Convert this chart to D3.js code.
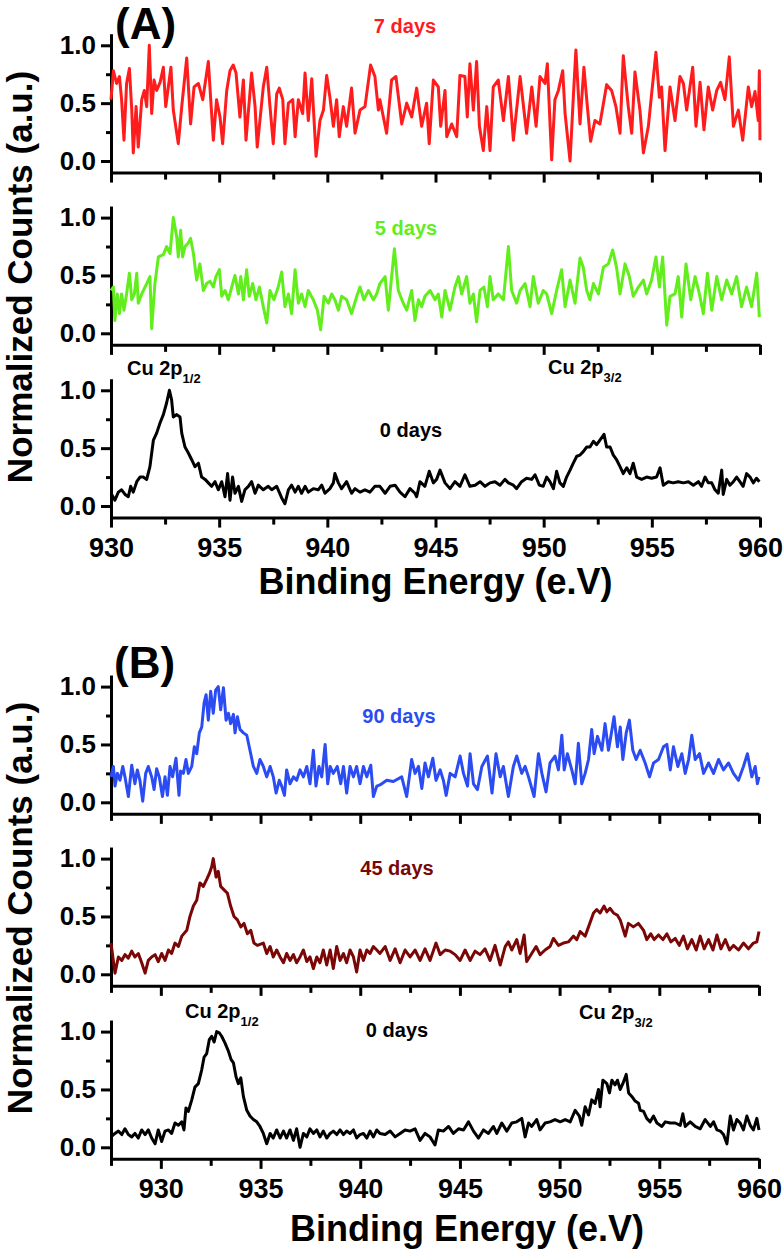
<!DOCTYPE html>
<html lang="en">
<head>
    <meta charset="UTF-8">
    <title>Cu 2p XPS spectra</title>
    <style>
        body { margin: 0; background: #fff; }
        svg { display: block; font-family: "Liberation Sans", Arial, sans-serif; font-weight: bold; }
        .trace { fill: none; stroke-width: 3; stroke-linejoin: round; }
        .axis path, .axis line { stroke: #000; stroke-width: 3; }
    </style>
    <script src="https://d3js.org/d3.v7.min.js"></script>
</head>
<body>
    <svg width="784" height="1254"></svg>
    <script>
        // tick values
        const majorTicksA = [930, 935, 940, 945, 950, 955, 960];
        const minorTicksA = [932.5, 937.5, 942.5, 947.5, 952.5, 957.5];
        const majorTicksB = [930, 935, 940, 945, 950, 955, 960];
        const minorTicksB = [927.5, 932.5, 937.5, 942.5, 947.5, 952.5, 957.5];
        const yMajor = [0, 0.5, 1.0];
        const yMinor = [0.25, 0.75];

        // series labels
        const labelsA = ["7 days", "5 days", "0 days"];
        const labelsB = ["90 days", "45 days", "0 days"];
        const colorsA = ["#ff1c1c", "#62ee1c", "#000000"];
        const colorsB = ["#2b4cf2", "#7a0606", "#000000"];

        // [binding energy, normalized counts]
        const days7A = [[930.00,0.53],[930.11,0.78],[930.26,0.67],[930.39,0.73],[930.49,0.53],[930.60,0.18],[930.72,0.67],[930.85,0.80],[930.96,0.44],[931.03,0.07],[931.16,0.47],[931.26,0.12],[931.42,0.53],[931.54,0.61],[931.65,0.47],[931.77,1.00],[931.88,0.41],[931.99,0.70],[932.11,0.61],[932.27,0.68],[932.42,0.81],[932.53,0.47],[932.65,0.64],[932.77,0.81],[932.88,0.44],[933.11,0.15],[933.27,0.47],[933.50,0.89],[933.68,0.32],[933.84,0.64],[934.04,0.67],[934.24,0.53],[934.50,0.86],[934.61,0.53],[934.73,0.18],[934.88,0.53],[935.04,0.38],[935.16,0.15],[935.35,0.61],[935.50,0.78],[935.65,0.83],[935.78,0.76],[935.96,0.38],[936.12,0.70],[936.24,0.18],[936.50,0.76],[936.66,0.47],[936.76,0.12],[937.04,0.64],[937.20,0.81],[937.35,0.47],[937.50,0.15],[937.66,0.58],[937.78,0.63],[937.94,0.53],[938.04,0.15],[938.20,0.50],[938.40,0.53],[938.51,0.21],[938.66,0.53],[938.86,0.41],[938.97,0.76],[939.12,0.35],[939.28,0.71],[939.48,0.04],[939.66,0.35],[939.82,0.44],[939.97,0.74],[940.12,0.55],[940.28,0.30],[940.43,0.53],[940.55,0.21],[940.74,0.47],[940.89,0.30],[941.12,0.63],[941.28,0.24],[941.51,0.44],[941.74,0.47],[942.00,0.83],[942.20,0.73],[942.36,0.44],[942.43,0.53],[942.74,0.24],[942.97,0.70],[943.17,0.73],[943.44,0.32],[943.67,0.50],[943.90,0.38],[944.13,0.63],[944.36,0.30],[944.59,0.50],[944.71,0.15],[944.90,0.70],[945.13,0.64],[945.24,0.30],[945.44,0.61],[945.52,0.21],[945.75,0.32],[945.98,0.21],[946.13,0.74],[946.36,0.73],[946.47,0.38],[946.59,0.84],[946.75,0.44],[946.90,0.86],[947.03,0.30],[947.21,0.09],[947.37,0.47],[947.52,0.09],[947.67,0.64],[947.90,0.70],[948.14,0.35],[948.37,0.73],[948.60,0.18],[948.91,0.73],[949.21,0.24],[949.45,0.64],[949.65,0.30],[949.83,0.73],[950.06,0.67],[950.17,0.84],[950.37,0.01],[950.52,0.53],[950.68,0.61],[950.88,0.78],[950.99,0.41],[951.22,0.00],[951.37,0.55],[951.49,0.96],[951.68,0.32],[951.86,0.81],[952.02,0.47],[952.17,0.17],[952.37,0.35],[952.60,0.32],[952.91,0.66],[953.14,0.61],[953.34,0.47],[953.53,0.24],[953.68,0.91],[953.91,0.47],[954.07,0.24],[954.22,0.77],[954.45,0.44],[954.61,0.07],[954.84,0.30],[954.99,0.58],[955.19,0.94],[955.35,0.55],[955.45,0.64],[955.61,0.09],[955.84,0.64],[956.07,0.35],[956.30,0.73],[956.46,0.67],[956.61,0.44],[956.89,0.81],[957.04,0.30],[957.23,0.68],[957.41,0.27],[957.61,0.64],[957.81,0.44],[958.00,0.61],[958.18,0.68],[958.38,0.53],[958.58,0.90],[958.77,0.30],[959.00,0.44],[959.20,0.18],[959.46,0.64],[959.61,0.47],[959.77,0.60],[959.92,0.35],[959.97,0.78],[960.00,0.18]];

        const days5A = [[930.00,0.37],[930.11,0.40],[930.18,0.11],[930.29,0.34],[930.39,0.17],[930.49,0.34],[930.60,0.20],[930.72,0.34],[930.85,0.52],[930.96,0.29],[931.08,0.34],[931.19,0.52],[931.26,0.26],[931.42,0.34],[931.65,0.43],[931.80,0.49],[931.88,0.04],[932.03,0.43],[932.19,0.66],[932.42,0.68],[932.57,0.75],[932.73,0.69],[932.88,1.00],[933.04,0.83],[933.11,0.66],[933.22,0.89],[933.31,0.66],[933.42,0.75],[933.57,0.78],[933.68,0.82],[933.81,0.69],[933.96,0.46],[934.11,0.60],[934.27,0.37],[934.42,0.43],[934.58,0.45],[934.73,0.40],[934.85,0.49],[935.01,0.55],[935.12,0.32],[935.27,0.37],[935.42,0.29],[935.58,0.40],[935.73,0.50],[935.89,0.34],[936.00,0.49],[936.12,0.29],[936.27,0.55],[936.39,0.32],[936.55,0.43],[936.70,0.29],[936.86,0.40],[937.04,0.23],[937.20,0.09],[937.35,0.37],[937.53,0.29],[937.73,0.40],[937.89,0.53],[938.04,0.23],[938.20,0.34],[938.35,0.17],[938.51,0.55],[938.66,0.26],[938.81,0.34],[938.97,0.23],[939.12,0.37],[939.35,0.29],[939.54,0.20],[939.69,0.03],[939.85,0.32],[940.05,0.26],[940.20,0.34],[940.35,0.29],[940.51,0.20],[940.66,0.32],[940.89,0.29],[941.12,0.17],[941.36,0.32],[941.51,0.40],[941.69,0.29],[941.90,0.37],[942.13,0.29],[942.28,0.34],[942.43,0.43],[942.67,0.49],[942.82,0.20],[943.10,0.73],[943.28,0.37],[943.51,0.26],[943.67,0.20],[943.90,0.37],[944.05,0.11],[944.21,0.29],[944.36,0.23],[944.51,0.32],[944.75,0.37],[944.98,0.29],[945.13,0.34],[945.29,0.14],[945.44,0.37],[945.67,0.20],[945.90,0.40],[946.06,0.49],[946.21,0.34],[946.44,0.49],[946.59,0.26],[946.75,0.34],[946.90,0.10],[947.06,0.37],[947.24,0.40],[947.40,0.23],[947.52,0.49],[947.67,0.29],[947.90,0.34],[948.14,0.29],[948.37,0.75],[948.52,0.37],[948.75,0.26],[948.91,0.37],[949.14,0.43],[949.37,0.23],[949.52,0.49],[949.75,0.26],[949.98,0.37],[950.14,0.34],[950.37,0.17],[950.60,0.37],[950.83,0.55],[950.99,0.23],[951.22,0.46],[951.45,0.26],[951.68,0.65],[951.83,0.57],[951.99,0.37],[952.14,0.29],[952.30,0.43],[952.53,0.34],[952.76,0.57],[952.99,0.60],[953.19,0.72],[953.37,0.57],[953.53,0.34],[953.76,0.60],[953.96,0.49],[954.14,0.32],[954.38,0.40],[954.61,0.46],[954.76,0.34],[954.99,0.46],[955.19,0.66],[955.35,0.40],[955.50,0.66],[955.69,0.07],[955.84,0.32],[956.07,0.34],[956.22,0.49],[956.38,0.14],[956.58,0.60],[956.80,0.29],[957.00,0.49],[957.20,0.34],[957.38,0.17],[957.57,0.52],[957.77,0.20],[958.00,0.49],[958.23,0.29],[958.46,0.46],[958.69,0.34],[958.92,0.49],[959.15,0.23],[959.38,0.40],[959.61,0.23],[959.85,0.52],[959.97,0.14]];

        const days0A = [[930.00,0.11],[930.18,0.05],[930.34,0.12],[930.49,0.14],[930.65,0.10],[930.80,0.08],[930.91,0.17],[931.03,0.12],[931.19,0.21],[931.34,0.25],[931.49,0.25],[931.65,0.23],[931.80,0.34],[931.96,0.57],[932.11,0.63],[932.27,0.72],[932.42,0.79],[932.57,0.89],[932.70,1.00],[932.80,0.92],[932.88,0.77],[933.04,0.79],[933.19,0.77],[933.27,0.63],[933.42,0.51],[933.57,0.46],[933.73,0.40],[933.88,0.34],[934.04,0.37],[934.19,0.25],[934.35,0.23],[934.50,0.20],[934.65,0.17],[934.81,0.21],[934.96,0.14],[935.12,0.21],[935.27,0.08],[935.39,0.28],[935.50,0.05],[935.62,0.25],[935.73,0.11],[935.89,0.17],[936.04,0.04],[936.19,0.14],[936.35,0.17],[936.50,0.21],[936.66,0.11],[936.81,0.18],[937.04,0.14],[937.27,0.17],[937.43,0.14],[937.66,0.17],[937.89,0.07],[938.04,0.02],[938.20,0.14],[938.35,0.18],[938.51,0.12],[938.66,0.17],[938.81,0.11],[938.97,0.17],[939.12,0.12],[939.35,0.15],[939.58,0.14],[939.74,0.18],[939.89,0.11],[940.12,0.15],[940.28,0.20],[940.35,0.28],[940.51,0.20],[940.66,0.15],[940.89,0.21],[941.12,0.11],[941.28,0.15],[941.51,0.12],[941.74,0.14],[941.97,0.12],[942.20,0.17],[942.43,0.17],[942.67,0.11],[942.90,0.17],[943.13,0.18],[943.36,0.12],[943.59,0.08],[943.82,0.15],[944.05,0.11],[944.13,0.08],[944.28,0.21],[944.51,0.17],[944.71,0.30],[944.90,0.20],[945.05,0.23],[945.21,0.31],[945.44,0.20],[945.67,0.15],[945.90,0.21],[946.13,0.17],[946.36,0.27],[946.59,0.17],[946.83,0.18],[947.06,0.21],[947.29,0.17],[947.52,0.20],[947.75,0.21],[947.98,0.18],[948.21,0.23],[948.37,0.20],[948.60,0.18],[948.75,0.15],[948.98,0.21],[949.21,0.24],[949.45,0.23],[949.60,0.27],[949.80,0.18],[949.98,0.17],[950.14,0.25],[950.29,0.21],[950.45,0.15],[950.60,0.30],[950.75,0.20],[950.91,0.17],[951.06,0.25],[951.22,0.31],[951.37,0.37],[951.53,0.43],[951.68,0.44],[951.83,0.47],[951.99,0.51],[952.14,0.51],[952.30,0.56],[952.45,0.53],[952.60,0.57],[952.79,0.62],[952.91,0.51],[953.07,0.51],[953.22,0.44],[953.37,0.40],[953.53,0.34],[953.68,0.28],[953.84,0.33],[953.99,0.28],[954.14,0.37],[954.30,0.25],[954.53,0.23],[954.76,0.25],[954.99,0.24],[955.22,0.25],[955.38,0.33],[955.53,0.18],[955.76,0.21],[955.99,0.20],[956.22,0.21],[956.46,0.20],[956.69,0.21],[956.92,0.18],[957.15,0.21],[957.30,0.17],[957.46,0.25],[957.61,0.20],[957.77,0.20],[957.92,0.14],[958.07,0.11],[958.23,0.31],[958.30,0.10],[958.46,0.23],[958.61,0.18],[958.77,0.21],[958.92,0.25],[959.07,0.21],[959.22,0.17],[959.38,0.28],[959.54,0.25],[959.69,0.20],[959.84,0.24],[959.97,0.21]];

        const days90B = [[927.50,0.22],[927.62,0.31],[927.70,0.14],[927.82,0.25],[927.95,0.19],[928.09,0.31],[928.20,0.22],[928.37,0.05],[928.54,0.32],[928.70,0.16],[928.82,0.28],[928.95,0.19],[929.09,0.01],[929.24,0.25],[929.37,0.31],[929.54,0.22],[929.66,0.11],[929.79,0.29],[929.92,0.22],[930.08,0.05],[930.21,0.22],[930.33,0.06],[930.46,0.31],[930.59,0.22],[930.76,0.38],[930.91,0.06],[930.99,0.27],[931.13,0.25],[931.26,0.37],[931.38,0.25],[931.55,0.31],[931.68,0.48],[931.80,0.42],[931.93,0.60],[932.05,0.65],[932.17,0.86],[932.27,0.93],[932.38,0.71],[932.50,0.96],[932.63,0.77],[932.75,0.97],[932.88,1.00],[933.00,0.80],[933.14,0.99],[933.27,0.71],[933.39,0.77],[933.50,0.68],[933.64,0.76],[933.72,0.60],[933.84,0.74],[933.97,0.63],[934.14,0.60],[934.31,0.58],[934.47,0.45],[934.64,0.31],[934.81,0.25],[934.97,0.37],[935.14,0.31],[935.31,0.22],[935.48,0.31],[935.64,0.22],[935.78,0.08],[935.94,0.19],[936.06,0.14],[936.20,0.06],[936.31,0.28],[936.48,0.16],[936.65,0.22],[936.81,0.19],[936.98,0.28],[937.15,0.22],[937.32,0.31],[937.48,0.16],[937.65,0.45],[937.78,0.14],[937.93,0.31],[938.07,0.22],[938.24,0.50],[938.37,0.16],[938.49,0.31],[938.65,0.25],[938.85,0.31],[939.02,0.16],[939.16,0.31],[939.32,0.08],[939.49,0.31],[939.66,0.22],[939.82,0.31],[939.99,0.16],[940.16,0.31],[940.33,0.22],[940.53,0.32],[940.66,0.05],[940.83,0.14],[940.99,0.15],[941.33,0.19],[941.66,0.18],[942.08,0.22],[942.33,0.05],[942.58,0.37],[942.75,0.25],[942.92,0.31],[943.09,0.12],[943.25,0.34],[943.42,0.22],[943.64,0.38],[943.80,0.19],[944.01,0.28],[944.17,0.19],[944.31,0.06],[944.51,0.25],[944.76,0.22],[945.01,0.40],[945.18,0.25],[945.38,0.14],[945.51,0.42],[945.68,0.16],[945.88,0.11],[946.10,0.31],[946.38,0.40],[946.61,0.08],[946.81,0.42],[947.02,0.22],[947.18,0.31],[947.43,0.05],[947.68,0.31],[947.85,0.40],[948.10,0.25],[948.27,0.31],[948.44,0.22],[948.72,0.05],[948.94,0.42],[949.11,0.25],[949.32,0.09],[949.52,0.34],[949.77,0.40],[949.94,0.28],[950.11,0.58],[950.23,0.28],[950.39,0.42],[950.61,0.28],[950.78,0.16],[950.94,0.51],[951.11,0.16],[951.28,0.25],[951.45,0.37],[951.61,0.63],[951.73,0.42],[951.90,0.57],[952.12,0.45],[952.28,0.68],[952.45,0.45],[952.57,0.57],[952.73,0.74],[952.90,0.48],[953.04,0.65],[953.17,0.37],[953.34,0.60],[953.50,0.71],[953.67,0.45],[953.84,0.37],[954.04,0.45],[954.29,0.34],[954.51,0.22],[954.71,0.34],[954.96,0.37],[955.21,0.48],[955.38,0.50],[955.55,0.28],[955.71,0.48],[955.93,0.31],[956.13,0.42],[956.30,0.25],[956.47,0.37],[956.63,0.58],[956.80,0.37],[957.02,0.42],[957.22,0.25],[957.47,0.34],[957.72,0.25],[957.97,0.37],[958.22,0.28],[958.47,0.34],[958.72,0.25],[958.97,0.19],[959.22,0.31],[959.42,0.42],[959.64,0.22],[959.81,0.31],[959.92,0.16],[960.00,0.22]];

        const days45B = [[927.50,0.27],[927.70,0.01],[927.87,0.15],[928.04,0.12],[928.20,0.17],[928.37,0.14],[928.54,0.20],[928.70,0.15],[928.87,0.18],[929.04,0.10],[929.21,0.01],[929.37,0.12],[929.54,0.15],[929.71,0.17],[929.87,0.11],[930.04,0.18],[930.21,0.12],[930.38,0.21],[930.54,0.18],[930.71,0.27],[930.88,0.24],[931.05,0.33],[931.30,0.38],[931.46,0.50],[931.63,0.59],[931.80,0.64],[931.96,0.79],[932.13,0.76],[932.30,0.82],[932.43,0.87],[932.55,0.93],[932.63,1.00],[932.77,0.84],[932.88,0.89],[933.00,0.76],[933.17,0.73],[933.34,0.70],[933.50,0.59],[933.67,0.50],[933.84,0.47],[934.01,0.41],[934.17,0.44],[934.34,0.35],[934.51,0.38],[934.67,0.27],[934.84,0.25],[935.14,0.27],[935.31,0.18],[935.48,0.24],[935.64,0.15],[935.81,0.21],[935.98,0.15],[936.15,0.10],[936.31,0.18],[936.48,0.12],[936.65,0.17],[936.81,0.10],[936.98,0.15],[937.15,0.21],[937.32,0.11],[937.48,0.15],[937.65,0.05],[937.82,0.15],[937.98,0.10],[938.15,0.21],[938.32,0.08],[938.49,0.21],[938.65,0.05],[938.82,0.24],[938.99,0.12],[939.16,0.18],[939.32,0.10],[939.49,0.21],[939.66,0.15],[939.82,0.02],[939.99,0.21],[940.16,0.12],[940.33,0.21],[940.49,0.18],[940.66,0.24],[940.83,0.21],[940.99,0.18],[941.25,0.24],[941.50,0.12],[941.75,0.22],[942.00,0.10],[942.25,0.21],[942.50,0.15],[942.75,0.21],[943.00,0.12],[943.25,0.22],[943.50,0.12],[943.80,0.27],[944.01,0.17],[944.26,0.21],[944.51,0.20],[944.76,0.17],[945.01,0.12],[945.26,0.21],[945.51,0.12],[945.76,0.20],[946.01,0.17],[946.26,0.22],[946.51,0.12],[946.76,0.25],[947.02,0.08],[947.27,0.24],[947.43,0.28],[947.60,0.21],[947.85,0.30],[948.02,0.18],[948.22,0.34],[948.35,0.11],[948.60,0.18],[948.82,0.24],[949.02,0.17],[949.27,0.21],[949.52,0.24],[949.69,0.31],[949.94,0.25],[950.19,0.27],[950.44,0.28],[950.69,0.33],[950.86,0.30],[951.03,0.37],[951.28,0.33],[951.45,0.41],[951.70,0.53],[951.86,0.56],[952.03,0.53],[952.23,0.59],[952.37,0.54],[952.53,0.57],[952.70,0.53],[952.90,0.51],[953.04,0.47],[953.29,0.33],[953.45,0.44],[953.70,0.41],[953.95,0.44],[954.21,0.38],[954.37,0.30],[954.57,0.35],[954.74,0.30],[954.96,0.34],[955.18,0.30],[955.38,0.35],[955.58,0.28],[955.80,0.31],[956.00,0.25],[956.21,0.33],[956.41,0.22],[956.63,0.30],[956.85,0.21],[957.05,0.33],[957.25,0.22],[957.47,0.30],[957.69,0.21],[957.89,0.34],[958.09,0.22],[958.31,0.30],[958.52,0.21],[958.72,0.25],[958.97,0.21],[959.22,0.27],[959.47,0.22],[959.72,0.27],[959.89,0.28],[960.00,0.37]];

        const days0B = [[927.50,0.09],[927.70,0.12],[927.87,0.14],[928.04,0.11],[928.20,0.16],[928.37,0.11],[928.54,0.09],[928.70,0.12],[928.87,0.08],[929.04,0.15],[929.21,0.11],[929.37,0.15],[929.54,0.08],[929.71,0.03],[929.87,0.15],[930.04,0.05],[930.21,0.14],[930.38,0.15],[930.54,0.12],[930.71,0.21],[930.88,0.19],[931.05,0.22],[931.16,0.15],[931.26,0.34],[931.38,0.31],[931.55,0.41],[931.71,0.52],[931.88,0.55],[932.05,0.67],[932.17,0.78],[932.30,0.81],[932.43,0.93],[932.55,0.96],[932.67,0.91],[932.80,1.00],[932.93,0.99],[933.05,0.96],[933.22,0.90],[933.39,0.83],[933.52,0.76],[933.64,0.73],[933.77,0.61],[933.89,0.55],[934.01,0.60],[934.14,0.44],[934.31,0.32],[934.47,0.27],[934.64,0.24],[934.81,0.22],[934.97,0.18],[935.14,0.12],[935.31,0.03],[935.48,0.12],[935.64,0.08],[935.81,0.15],[935.98,0.08],[936.15,0.14],[936.31,0.08],[936.48,0.15],[936.65,0.06],[936.81,0.16],[936.98,0.00],[937.15,0.12],[937.32,0.09],[937.48,0.16],[937.65,0.12],[937.82,0.15],[937.98,0.09],[938.15,0.14],[938.32,0.08],[938.49,0.12],[938.65,0.14],[938.82,0.11],[938.99,0.15],[939.16,0.11],[939.32,0.14],[939.49,0.12],[939.66,0.15],[939.82,0.08],[939.99,0.11],[940.16,0.12],[940.33,0.08],[940.49,0.14],[940.66,0.09],[940.83,0.15],[940.99,0.12],[941.25,0.11],[941.50,0.14],[941.75,0.09],[942.00,0.12],[942.25,0.15],[942.50,0.14],[942.75,0.16],[943.00,0.06],[943.25,0.12],[943.50,0.09],[943.75,0.02],[943.92,0.15],[944.17,0.14],[944.43,0.18],[944.67,0.12],[944.93,0.16],[945.18,0.15],[945.43,0.22],[945.68,0.14],[945.93,0.08],[946.18,0.15],[946.43,0.12],[946.68,0.18],[946.85,0.12],[947.10,0.21],[947.35,0.14],[947.60,0.21],[947.85,0.22],[948.10,0.25],[948.27,0.09],[948.44,0.21],[948.60,0.18],[948.85,0.24],[949.02,0.15],[949.27,0.21],[949.52,0.22],[949.77,0.24],[950.03,0.22],[950.28,0.24],[950.53,0.22],[950.78,0.32],[950.99,0.27],[951.11,0.19],[951.28,0.35],[951.45,0.28],[951.61,0.41],[951.78,0.38],[951.95,0.50],[952.03,0.35],[952.17,0.58],[952.37,0.55],[952.50,0.47],[952.62,0.58],[952.78,0.54],[952.90,0.58],[953.04,0.50],[953.17,0.55],[953.34,0.63],[953.46,0.47],[953.62,0.44],[953.79,0.40],[953.96,0.38],[954.04,0.32],[954.21,0.31],[954.37,0.25],[954.54,0.22],[954.71,0.27],[954.88,0.21],[955.13,0.18],[955.30,0.22],[955.55,0.21],[955.80,0.21],[956.05,0.19],[956.18,0.29],[956.30,0.18],[956.55,0.22],[956.80,0.18],[957.05,0.16],[957.30,0.24],[957.56,0.18],[957.72,0.22],[957.89,0.15],[958.06,0.14],[958.22,0.11],[958.39,0.03],[958.56,0.27],[958.72,0.15],[958.89,0.24],[959.06,0.21],[959.22,0.15],[959.39,0.27],[959.56,0.19],[959.72,0.15],[959.89,0.25],[960.00,0.15]];

        const svg = d3.select("svg");
        const unit = 115.7;   // px per 1.0 of normalized counts

        const panels = [
            {
                tag: "(A)", tagX: 115, tagY: 39,
                domain: [930, 960], range: [111, 760],
                major: majorTicksA, minor: minorTicksA,
                zeros: [161, 333.3, 506],
                series: [days7A, days5A, days0A], labels: labelsA, colors: colorsA,
                labelPos: [[405, 33], [406, 235], [411, 437]],
                cu12: [127, 375], cu32: [548, 374],
                xLabelY: 39, titleX: 435.5, titleY: 594, yTitleY: 277
            },
            {
                tag: "(B)", tagX: 114, tagY: 678,
                domain: [927.5, 960], range: [111, 759],
                major: majorTicksB, minor: minorTicksB,
                zeros: [802.3, 974.3, 1147.3],
                series: [days90B, days45B, days0B], labels: labelsB, colors: colorsB,
                labelPos: [[399, 723], [397, 875], [397, 1037]],
                cu12: [185, 1018], cu32: [579, 1019],
                xLabelY: 39, titleX: 467, titleY: 1241, yTitleY: 908
            }
        ];

        function styleAxis(g) {
            g.attr("font-family", null).attr("font-size", null);
            g.selectAll(".tick text").attr("fill", "#000");
        }

        panels.forEach(p => {
            const x = d3.scaleLinear().domain(p.domain).range(p.range);

            p.series.forEach((data, i) => {
                const zero = p.zeros[i];
                const y = d3.scaleLinear().domain([-0.1, 1.1]).range([zero + 0.1 * unit, zero - 1.1 * unit]);
                const bottom = y(-0.1);
                const isLast = i === p.series.length - 1;

                // bottom axis: major and minor ticks
                const gx = svg.append("g").attr("class", "axis")
                    .attr("transform", `translate(0,${bottom})`)
                    .call(d3.axisBottom(x).tickValues(p.major).tickSize(10).tickSizeOuter(0)
                        .tickFormat(isLast ? d3.format("d") : ""));
                styleAxis(gx);
                gx.selectAll(".tick text").attr("font-size", 27).attr("dy", null).attr("y", p.xLabelY);

                svg.append("g").attr("class", "axis")
                    .attr("transform", `translate(0,${bottom})`)
                    .call(d3.axisBottom(x).tickValues(p.minor).tickSize(7).tickFormat(""))
                    .call(g => g.select(".domain").remove());

                // left axis
                const gy = svg.append("g").attr("class", "axis")
                    .attr("transform", `translate(${p.range[0]},0)`)
                    .call(d3.axisLeft(y).tickValues(yMajor).tickSize(10).tickPadding(5).tickSizeOuter(0)
                        .tickFormat(d3.format(".1f")));
                styleAxis(gy);
                gy.selectAll(".tick text").attr("font-size", 26);

                svg.append("g").attr("class", "axis")
                    .attr("transform", `translate(${p.range[0]},0)`)
                    .call(d3.axisLeft(y).tickValues(yMinor).tickSize(5).tickFormat(""))
                    .call(g => g.select(".domain").remove());

                // spectrum
                const line = d3.line().x(d => x(d[0])).y(d => y(d[1]));
                svg.append("path").datum(data)
                    .attr("class", "trace")
                    .attr("stroke", p.colors[i])
                    .attr("d", line);

                svg.append("text")
                    .attr("x", p.labelPos[i][0]).attr("y", p.labelPos[i][1])
                    .attr("text-anchor", "middle")
                    .attr("font-size", 20)
                    .attr("fill", p.colors[i])
                    .text(p.labels[i]);
            });

            // peak annotations
            [[p.cu12, "1/2"], [p.cu32, "3/2"]].forEach(([pos, sub]) => {
                const t = svg.append("text")
                    .attr("x", pos[0]).attr("y", pos[1])
                    .attr("font-size", 20).attr("fill", "#000");
                t.append("tspan").text("Cu 2p");
                t.append("tspan").attr("font-size", 13).attr("dy", 8).text(sub);
            });

            svg.append("text")
                .attr("x", p.tagX).attr("y", p.tagY)
                .attr("font-size", 44).attr("fill", "#000")
                .text(p.tag);

            svg.append("text")
                .attr("x", p.titleX).attr("y", p.titleY)
                .attr("text-anchor", "middle")
                .attr("font-size", 36).attr("fill", "#000")
                .text("Binding Energy (e.V)");

            svg.append("text")
                .attr("transform", `translate(32,${p.yTitleY}) rotate(-90)`)
                .attr("text-anchor", "middle")
                .attr("font-size", 35).attr("fill", "#000")
                .text("Normalized Counts (a.u.)");
        });
    </script>
</body>
</html>
